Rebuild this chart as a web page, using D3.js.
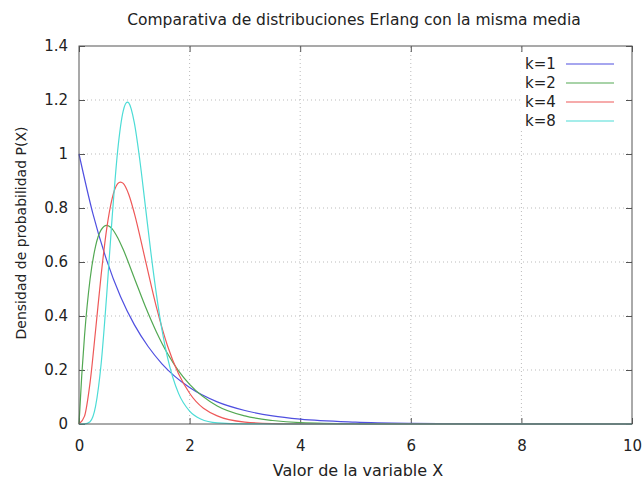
<!DOCTYPE html>
<html lang="en">
<head>
<meta charset="UTF-8">
<title>Erlang</title>
<script src="https://cdn.jsdelivr.net/npm/d3@7"></script>
<style>
  body { margin: 0; background: #fff; }
  text { font-family: "DejaVu Sans", Verdana, sans-serif; fill: #222; }
</style>
</head>
<body>
<script>
// valores
const xs1 = [0, 0.25, 0.5, 0.75, 1, 1.25, 1.5, 2, 2.5, 3, 3.5, 4, 5, 6, 7, 8, 9, 10]
const k1 = [1, 0.78, 0.607, 0.472, 0.368, 0.287, 0.223, 0.135, 0.082, 0.05, 0.03, 0.018, 0.007, 0.0025, 0.001, 0.0003, 0.0001, 0]
const xs2 = [0, 0.05, 0.1, 0.2, 0.3, 0.4, 0.5, 0.6, 0.7, 0.8, 1, 1.2, 1.4, 1.6, 1.8, 2, 2.5, 3, 3.5, 4, 5, 6, 10]
const k2 = [0, 0.181, 0.327, 0.536, 0.659, 0.719, 0.736, 0.723, 0.69, 0.646, 0.541, 0.435, 0.341, 0.261, 0.197, 0.147, 0.067, 0.03, 0.013, 0.005, 0.001, 0, 0]
const xs4 = [0, 0.1, 0.2, 0.3, 0.4, 0.5, 0.6, 0.7, 0.75, 0.8, 0.9, 1, 1.2, 1.4, 1.6, 1.8, 2, 2.5, 3, 3.5, 4, 5, 10]
const k4 = [0, 0.029, 0.153, 0.347, 0.551, 0.722, 0.836, 0.89, 0.896, 0.891, 0.85, 0.781, 0.607, 0.433, 0.29, 0.186, 0.114, 0.03, 0.007, 0.0015, 0.0003, 0, 0]
const xs8 = [0, 0.1, 0.2, 0.3, 0.4, 0.5, 0.6, 0.7, 0.8, 0.875, 0.9, 1, 1.1, 1.2, 1.3, 1.4, 1.5, 1.6, 1.8, 2, 2.2, 2.5, 3, 4, 10]
const k8 = [0, 0.0002, 0.0086, 0.066, 0.222, 0.476, 0.767, 1.014, 1.16, 1.192, 1.189, 1.116, 0.977, 0.807, 0.635, 0.48, 0.349, 0.247, 0.1135, 0.048, 0.0188, 0.0042, 0.0003, 0, 0]
const seriesNames = ['k=1', 'k=2', 'k=4', 'k=8']
const xTicks = [0, 2, 4, 6, 8, 10]
const yTicks = [0, 0.2, 0.4, 0.6, 0.8, 1, 1.2, 1.4]

const [width, height] = [644, 483]
const margin = {left: 79, right: 12, top: 46, bottom: 59}
const colors = ['#4f4fe0', '#52a852', '#ee5858', '#4cdcd6']
const series = [[xs1, k1], [xs2, k2], [xs4, k4], [xs8, k8]]

const svg = d3.select('body').append('svg').attr('width', width).attr('height', height)
const x = d3.scaleLinear().domain([0, 10]).range([margin.left, width - margin.right])
const y = d3.scaleLinear().domain([0, 1.4]).range([height - margin.bottom, margin.top])
const [x0, x1, y0, y1] = [x(0), x(10), y(0), y(1.4)]

// rejilla punteada
svg.append('g').selectAll('line').data(xTicks.slice(1, -1)).join('line')
    .attr('x1', d => x(d)).attr('x2', d => x(d)).attr('y1', y0).attr('y2', y1)
    .attr('stroke', '#bbb').attr('stroke-dasharray', '1,3')
svg.append('g').selectAll('line').data(yTicks.slice(1, -1)).join('line')
    .attr('x1', x0).attr('x2', x1).attr('y1', d => y(d)).attr('y2', d => y(d))
    .attr('stroke', '#bbb').attr('stroke-dasharray', '1,3')

// ejes estilo gnuplot, marcas hacia dentro
svg.append('g').attr('transform', `translate(0, ${y0})`)
    .call(d3.axisBottom(x).tickValues(xTicks).tickSizeInner(-6).tickSizeOuter(0).tickPadding(16).tickFormat(d3.format('')))
svg.append('g').attr('transform', `translate(0, ${y1})`)
    .call(d3.axisTop(x).tickValues(xTicks).tickSizeInner(-6).tickSizeOuter(0).tickFormat(''))
svg.append('g').attr('transform', `translate(${x0}, 0)`)
    .call(d3.axisLeft(y).tickValues(yTicks).tickSizeInner(-6).tickSizeOuter(0).tickPadding(11).tickFormat(d3.format('')))
svg.append('g').attr('transform', `translate(${x1}, 0)`)
    .call(d3.axisRight(y).tickValues(yTicks).tickSizeInner(-6).tickSizeOuter(0).tickFormat(''))
svg.selectAll('.domain').remove()
svg.selectAll('.tick line').attr('stroke', '#555')
svg.selectAll('.tick text').attr('font-size', 15).attr('fill', '#222')

// curvas
const line = d3.line().curve(d3.curveMonotoneX)
svg.append('g').selectAll('path').data(series).join('path')
    .attr('d', ([xs, ys]) => line(xs.map((v, i) => [x(v), y(ys[i])])))
    .attr('fill', 'none')
    .attr('stroke', (d, i) => colors[i])
    .attr('stroke-width', 1.2)

// marco
svg.append('rect').attr('x', x0).attr('y', y1).attr('width', x1 - x0).attr('height', y0 - y1)
    .attr('fill', 'none').attr('stroke', '#555')

// leyenda
const legend = svg.append('g')
legend.append('rect').attr('x', 521).attr('y', 53).attr('width', 104).attr('height', 78).attr('fill', '#fff')
const item = legend.selectAll('g').data(seriesNames).join('g')
    .attr('transform', (d, i) => `translate(0, ${64 + i * 19})`)
item.append('text').attr('x', 525).attr('dy', '0.35em').attr('font-size', 15).text(d => d)
item.append('line').attr('x1', 566).attr('x2', 614)
    .attr('stroke', (d, i) => colors[i]).attr('stroke-width', 1.2)

// titulos
svg.append('text').attr('x', 354).attr('y', 25).attr('text-anchor', 'middle').attr('font-size', 15.5)
    .text('Comparativa de distribuciones Erlang con la misma media')
svg.append('text').attr('x', 358).attr('y', 476).attr('text-anchor', 'middle').attr('font-size', 16)
    .text('Valor de la variable X')
svg.append('text').attr('transform', `translate(26, ${(y0 + y1) / 2 - 2}) rotate(-90)`).attr('text-anchor', 'middle').attr('font-size', 14)
    .text('Densidad de probabilidad P(X)')
</script>
</body>
</html>
